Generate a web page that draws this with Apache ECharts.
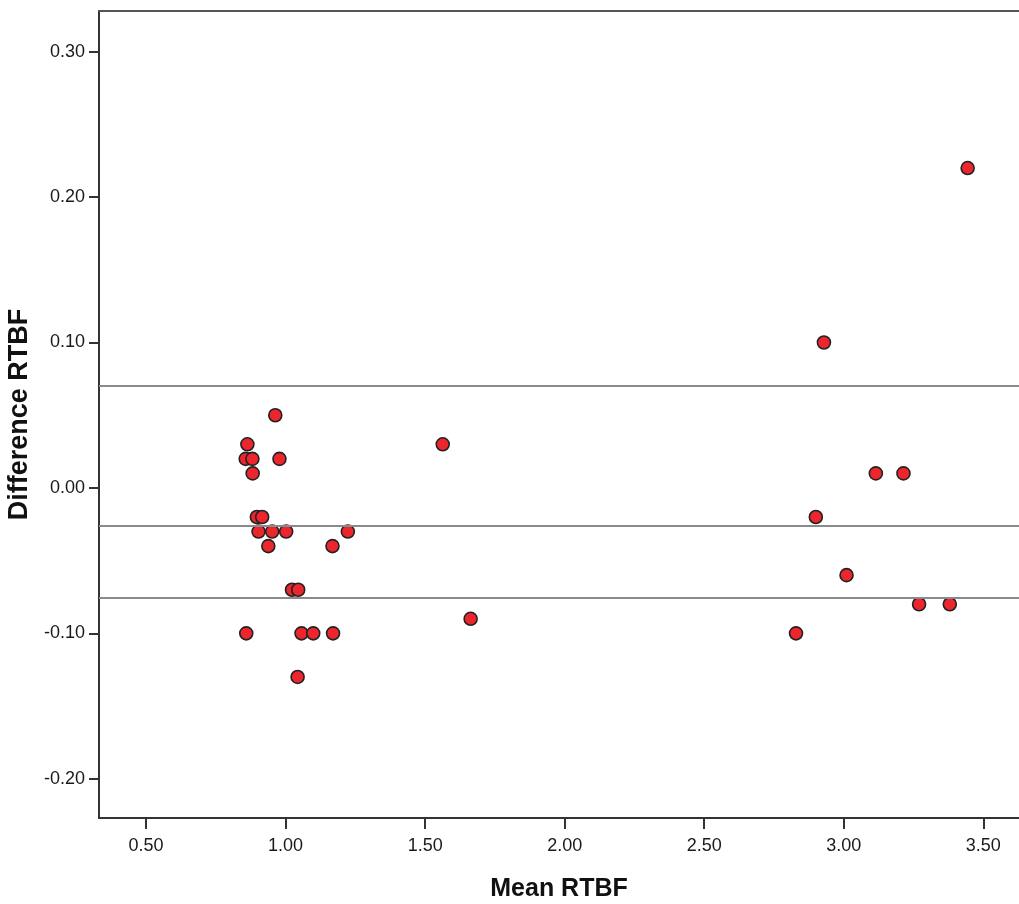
<!DOCTYPE html>
<html>
<head>
<meta charset="utf-8">
<script src="https://cdn.jsdelivr.net/npm/echarts@6/dist/echarts.min.js"></script>
<style>
html,body{margin:0;padding:0;background:#fff;}
#chart{width:1019px;height:904px;}
</style>
</head>
<body>
<div id="chart"></div>
<script>
// Bland-Altman data: mean RTBF (x) and difference RTBF (y)
var meanRTBF = [
  0.963, 0.863, 0.857, 0.881, 0.978, 0.882, 0.897, 0.916, 0.903, 0.952,
  1.002, 1.223, 0.938, 1.168, 1.023, 1.045, 0.859, 1.057, 1.099, 1.170,
  1.043, 1.563, 1.663,
  2.929, 3.115, 3.214, 2.900, 3.010, 3.270, 3.380, 2.829, 3.444
];
var diffRTBF = [
  0.05, 0.03, 0.02, 0.02, 0.02, 0.01, -0.02, -0.02, -0.03, -0.03,
  -0.03, -0.03, -0.04, -0.04, -0.07, -0.07, -0.10, -0.10, -0.10, -0.10,
  -0.13, 0.03, -0.09,
  0.10, 0.01, 0.01, -0.02, -0.06, -0.08, -0.08, -0.10, 0.22
];
var refLines = [0.0704, -0.0258, -0.0752];
var xTicks = [0.5, 1.0, 1.5, 2.0, 2.5, 3.0, 3.5];
var yTicks = [-0.2, -0.1, 0.0, 0.1, 0.2, 0.3];

var points = meanRTBF.map(function (m, i) { return [m, diffRTBF[i]]; });

var chart = echarts.init(document.getElementById('chart'), null, {renderer: 'canvas'});
var labelFont = {fontFamily: 'Liberation Sans, Arial, sans-serif', fontSize: 18, color: '#1a1a1a'};
var nameFontFamily = 'Liberation Sans, Arial, sans-serif';

chart.setOption({
  animation: false,
  backgroundColor: '#ffffff',
  grid: {left: 99, top: 11, right: 0, bottom: 86, containLabel: false, outerBoundsMode: 'none'},
  xAxis: [{
    type: 'value',
    position: 'bottom',
    min: 0.3313,
    max: 3.628,
    name: 'Mean RTBF',
    nameLocation: 'middle',
    nameGap: 59,
    nameTextStyle: {fontFamily: nameFontFamily, fontSize: 25, fontWeight: 'bold', color: '#111'},
    axisLine: {show: true, onZero: false, lineStyle: {color: '#333', width: 2}},
    axisTick: {show: true, length: 11, customValues: xTicks, lineStyle: {color: '#333', width: 2}},
    axisLabel: Object.assign({customValues: xTicks, margin: 19, formatter: function (v) { return v.toFixed(2); }}, labelFont),
    splitLine: {show: false}
  }, {
    type: 'value',
    position: 'top',
    min: 0.3313,
    max: 3.628,
    axisLine: {show: true, onZero: false, lineStyle: {color: '#555', width: 2}},
    axisTick: {show: false},
    axisLabel: {show: false},
    splitLine: {show: false}
  }],
  yAxis: {
    type: 'value',
    min: -0.227,
    max: 0.328,
    name: 'Difference RTBF',
    nameLocation: 'middle',
    nameGap: 61,
    nameTextStyle: {fontFamily: nameFontFamily, fontSize: 27, fontWeight: 'bold', color: '#111'},
    axisLine: {show: true, onZero: false, lineStyle: {color: '#333', width: 2}},
    axisTick: {show: true, length: 10, customValues: yTicks, lineStyle: {color: '#333', width: 2}},
    axisLabel: Object.assign({customValues: yTicks, margin: 14, formatter: function (v) { return v.toFixed(2); }}, labelFont),
    splitLine: {show: false}
  },
  series: [{
    type: 'scatter',
    xAxisIndex: 0,
    data: points,
    symbol: 'circle',
    symbolSize: 13,
    itemStyle: {color: '#ec262c', borderColor: '#222', borderWidth: 1.6, opacity: 1},
    markLine: {
      silent: true,
      precision: 4,
      symbol: ['none', 'none'],
      label: {show: false},
      lineStyle: {color: '#8a8a8a', width: 2, type: 'solid'},
      data: refLines.map(function (v) { return {yAxis: v}; })
    },
    z: 3
  }]
});
</script>
</body>
</html>
